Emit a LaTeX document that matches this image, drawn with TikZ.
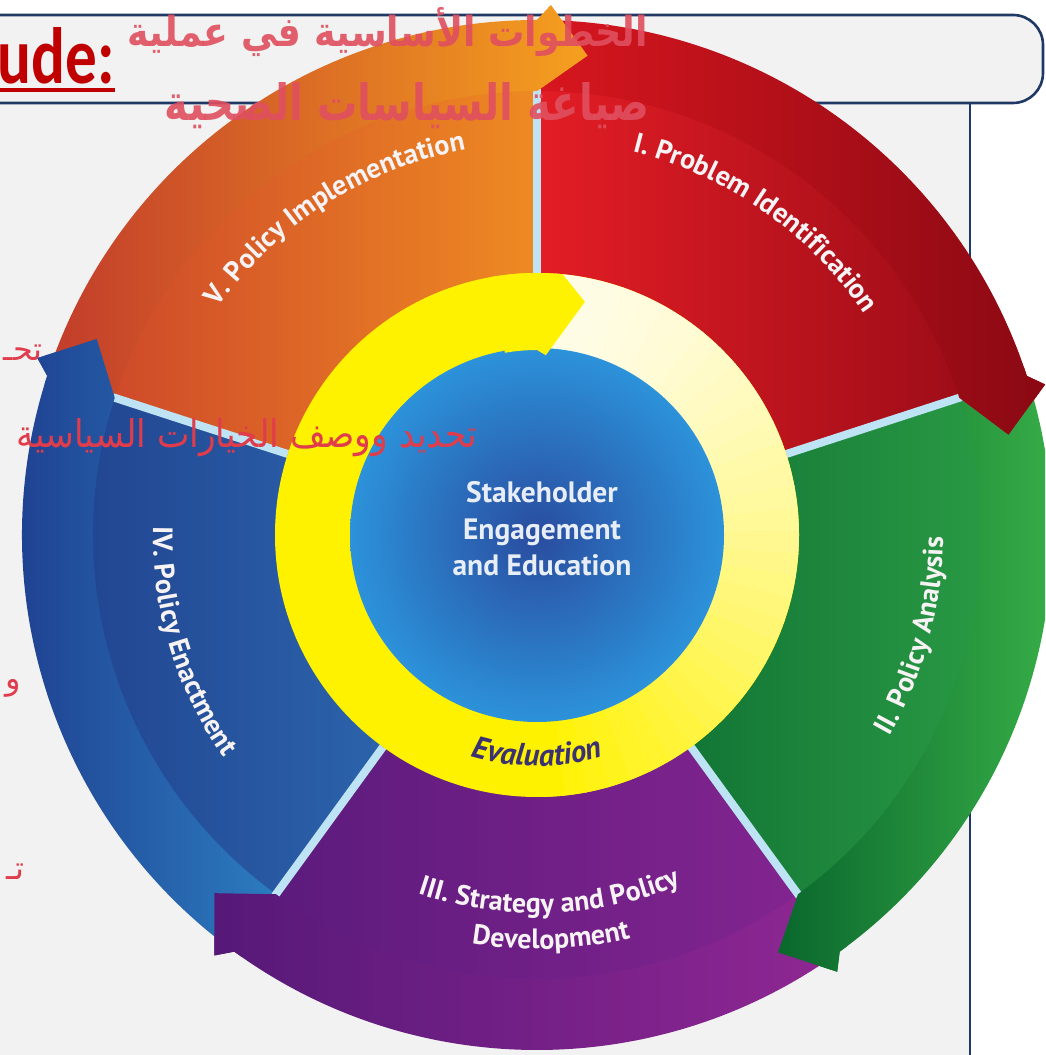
\documentclass[tikz,border=0pt]{standalone}
\usepackage{fontspec}
\setmainfont{PT Sans}
\newfontfamily\arfont[Script=Arabic]{DejaVu Sans}
\newfontfamily\calfont{Carlito}
\TeXXeTstate=1
\usetikzlibrary{decorations.text}
\definecolor{navy}{HTML}{1F3864}
\definecolor{panel}{HTML}{F2F2F2}
\definecolor{titlered}{HTML}{C00000}
\definecolor{arpink}{HTML}{E04F5F}
\definecolor{arred}{HTML}{E03C4C}
\definecolor{divblue}{HTML}{BEE3F4}
\definecolor{redA}{HTML}{E31D25}\definecolor{redB}{HTML}{9E0D18}
\definecolor{redC}{HTML}{D8161F}\definecolor{redD}{HTML}{8A0913}
\definecolor{grnA}{HTML}{127535}\definecolor{grnB}{HTML}{2C9E46}
\definecolor{grnC}{HTML}{0A672D}\definecolor{grnD}{HTML}{3DB84B}
\definecolor{purA}{HTML}{5C1B7D}\definecolor{purB}{HTML}{82248F}
\definecolor{purC}{HTML}{561978}\definecolor{purD}{HTML}{902793}
\definecolor{bluA}{HTML}{21428F}\definecolor{bluB}{HTML}{2B64AB}
\definecolor{bluC}{HTML}{1D398A}\definecolor{bluD}{HTML}{2C7CC0}
\definecolor{oraA}{HTML}{CF4A2A}\definecolor{oraB}{HTML}{EE8A22}
\definecolor{oraC}{HTML}{C23C2B}\definecolor{oraD}{HTML}{F5A01F}
\definecolor{ringY}{HTML}{FFF200}
\definecolor{ringC}{HTML}{FFFCE6}
\definecolor{coreIn}{HTML}{2A4C9F}
\definecolor{coreOut}{HTML}{2C92DA}
\definecolor{coretext}{HTML}{E8EEF8}
\definecolor{evalcol}{HTML}{3B3272}
\definecolor{lbl}{HTML}{F7F3F5}
\newcommand\lblfont{\bfseries\fontsize{28}{32}\selectfont}
\newcommand\evalfont{\bfseries\itshape\fontsize{31}{34}\selectfont}
\tikzset{
  navyline/.style={draw=navy, line width=2.6pt},
  divider/.style={draw=divblue, line width=8pt},
  arclabel/.style={decorate, decoration={text along path, text align=center, text color=lbl, text={#1}}},
  artext/.style={anchor=base east, inner sep=0pt},
}
\begin{document}
\begin{tikzpicture}[x=1pt,y=1pt]
\useasboundingbox (0,0) rectangle (1045,1055);
\clip (0,0) rectangle (1045,1055);
\fill[white] (0,0) rectangle (1045,1055);
\fill[panel] (0,0) rectangle (970,952);
\draw[navyline] (970,-5) -- (970,952);
\draw[navyline, fill=panel, rounded corners=30pt] (-60,952) rectangle (1043,1040);

% fragments of Arabic text behind the wheel
\node[artext, text=arred] (f1) at (43,694) {\fontsize{32}{32}\selectfont\arfont\beginR تحـ\endR};
\node[artext, text=arred] (f2) at (21,365) {\fontsize{32}{32}\selectfont\arfont\beginR و\endR};
\node[artext, text=arred] (f3) at (25,175) {\fontsize{32}{32}\selectfont\arfont\beginR تـ\endR};

\begin{scope}[shift={(537,520)}]
% inner bodies
\foreach \s/\ca/\cb in {90/redA/redB, 18/grnA/grnB, -54/purA/purB, -126/bluA/bluB, 162/oraA/oraB}{
  \pgfmathsetmacro\segE{\s-72}
  \shade[left color=\ca, right color=\cb] (\s:255) -- (\s:446) arc[start angle=\s, end angle=\segE, radius=446] -- (\segE:255) arc[start angle=\segE, end angle=\s, radius=255] -- cycle;
}
% outer arrow bands
\foreach \s/\ca/\cb in {90/redC/redD, 18/grnC/grnD, -54/purC/purD, -126/bluC/bluD, 162/oraC/oraD}{
  \pgfmathsetmacro\segE{\s-72}
  \pgfmathsetmacro\segB{\s-73.5}
  \pgfmathsetmacro\segT{\s-78}
  \shade[left color=\ca, right color=\cb] (\s:444) -- (\s:515) arc[start angle=\s, end angle=\segE, radius=515] -- (\segB:530) -- (\segT:482) -- (\segE:444) arc[start angle=\segE, end angle=\s, radius=444] -- cycle;
}
% dividers
\foreach \a in {90,18,-54,-126,162} \draw[divider] (\a:262) -- (\a:446);
% arrowheads on top
\foreach \s/\ca/\cb in {90/redC/redD, 18/grnC/grnD, -54/purC/purD, -126/bluC/bluD, 162/oraC/oraD}{
  \pgfmathsetmacro\segE{\s-72}
  \pgfmathsetmacro\segF{\s-71}
  \pgfmathsetmacro\segB{\s-73.5}
  \pgfmathsetmacro\segT{\s-78}
  \begin{scope}
    \clip (\segF:440) -- (\segF:522) -- (\segB:536) -- (\segT:482) -- (\segE:440) -- cycle;
    \shade[left color=\ca, right color=\cb] (\s:444) -- (\s:515) arc[start angle=\s, end angle=\segE, radius=515] -- (\segB:530) -- (\segT:482) -- (\segE:444) arc[start angle=\segE, end angle=\s, radius=444] -- cycle;
  \end{scope}
}
% yellow ring
\fill[ringY] (0,0) circle (262);
\foreach \i in {0,...,34}{
  \pgfmathsetmacro\aa{86-5*\i}
  \pgfmathsetmacro\ab{\aa-5.4}
  \pgfmathtruncatemacro\p{100*(\i/34)^1.4}
  \colorlet{slicecol}{ringY!\p!ringC}
  \fill[slicecol] (0,0) -- (\aa:262) arc[start angle=\aa, end angle=\ab, radius=262] -- cycle;
}
\shade[inner color=coreIn, outer color=coreOut] (0,0) circle (187);
\fill[ringY] (100:185) -- (100:262) arc[start angle=100, end angle=84.4, radius=262] -- (78.4:238) -- (87.2:180) -- (90:185) arc[start angle=90, end angle=100, radius=185] -- cycle;

\node[align=center, text=coretext, font=\bfseries\fontsize{29.5}{36.5}\selectfont] (core) at (5,6) {Stakeholder\\Engagement\\and Education};
\path[decorate, decoration={text along path, text align=center, text color=evalcol, text={|\evalfont|Evaluation}}] (245:231) arc[start angle=245, end angle=295, radius=231];

\path[arclabel={|\lblfont|I. Problem Identification}] (90:395) arc[start angle=90, end angle=20, radius=395];
\path[arclabel={|\lblfont|II. Policy Analysis}] (-45:406) arc[start angle=-45, end angle=15, radius=406];
\path[arclabel={|\lblfont|III. Strategy and Policy}] (230:378) arc[start angle=230, end angle=314, radius=378];
\path[arclabel={|\lblfont|Development}] (240:414) arc[start angle=240, end angle=304, radius=414];
\path[arclabel={|\lblfont|IV. Policy Enactment}] (160:384) arc[start angle=160, end angle=234, radius=384];
\path[arclabel={|\lblfont|V. Policy Implementation}] (160:392) arc[start angle=160, end angle=85, radius=392];
\end{scope}

% title texts
\node[artext, text=titlered] (u) at (115,971) {\resizebox{117pt}{56pt}{\calfont\bfseries ude:}};
\draw[titlered, line width=4pt] ([yshift=-6pt]u.base west) -- ([yshift=-6pt]u.base east);
\node[artext, text=arpink, text opacity=0.9] (t1) at (648,1008) {\resizebox{520pt}{39pt}{\arfont\bfseries\beginR الخطوات الأساسية في عملية\endR}};
\node[artext, text=arpink, text opacity=0.9] (t2) at (650,934) {\resizebox{485pt}{38pt}{\arfont\bfseries\beginR صياغة السياسات الصحية\endR}};
\node[artext, text=arred] (t3) at (477,607) {\resizebox{460pt}{29pt}{\arfont\beginR تحديد ووصف الخيارات السياسية\endR}};
\end{tikzpicture}
\end{document}
